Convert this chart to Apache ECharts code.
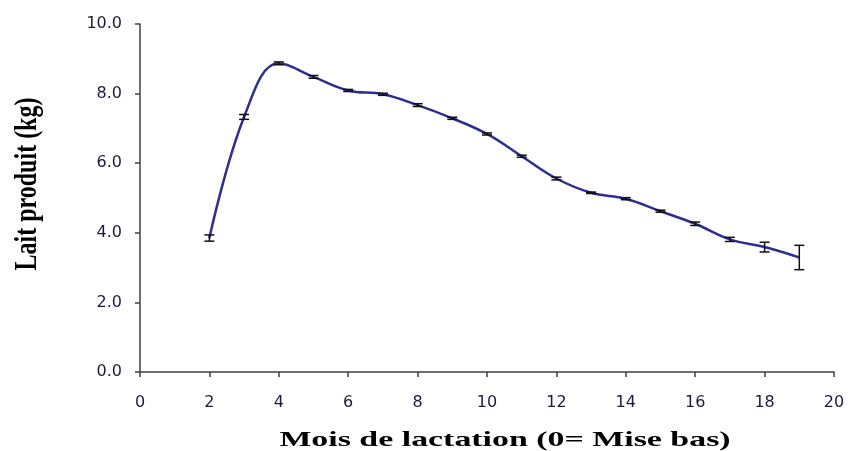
<!DOCTYPE html>
<html>
<head>
<meta charset="utf-8">
<script src="https://cdn.jsdelivr.net/npm/echarts@6/dist/echarts.min.js"></script>
<style>
html,body{margin:0;padding:0;background:#fff;}
#chart{width:849px;height:451px;}
</style>
</head>
<body>
<div id="chart"></div>
<script>
// Data
var months = [2, 3, 4, 5, 6, 7, 8, 9, 10, 11, 12, 13, 14, 15, 16, 17, 18, 19];
var milk   = [3.85, 7.33, 8.87, 8.48, 8.09, 7.98, 7.67, 7.29, 6.84, 6.20, 5.56, 5.15, 4.98, 4.62, 4.26, 3.81, 3.59, 3.29];
var errors = [0.09, 0.07, 0.04, 0.04, 0.03, 0.03, 0.04, 0.03, 0.03, 0.03, 0.04, 0.02, 0.03, 0.03, 0.05, 0.06, 0.14, 0.35];
var xTitle = 'Mois de lactation (0= Mise bas)';
var yTitle = 'Lait produit (kg)';

var lineData = months.map(function (m, i) { return [m, milk[i]]; });
var errData = months.map(function (m, i) { return [m, milk[i] - errors[i], milk[i] + errors[i]]; });

var chart = echarts.init(document.getElementById('chart'), null, {renderer: 'canvas'});
var labelColor = '#1c1c3a';
var axisColor = '#404040';

chart.setOption({
  animation: false,
  backgroundColor: '#ffffff',
  grid: {left: 140, right: 15, top: 24, bottom: 79, containLabel: false},
  xAxis: {
    type: 'value', min: 0, max: 20, interval: 2,
    splitLine: {show: false},
    axisLine: {show: true, onZero: false, lineStyle: {color: axisColor, width: 1.5}},
    axisTick: {show: true, inside: false, length: 5, lineStyle: {color: axisColor, width: 1.5}},
    axisLabel: {color: labelColor, fontFamily: 'DejaVu Sans', fontSize: 16, margin: 23}
  },
  yAxis: {
    type: 'value', min: 0, max: 10, interval: 2,
    splitLine: {show: false},
    axisLine: {show: true, onZero: false, lineStyle: {color: axisColor, width: 1.5}},
    axisTick: {show: true, inside: false, length: 5, lineStyle: {color: axisColor, width: 1.5}},
    axisLabel: {color: labelColor, fontFamily: 'DejaVu Sans', fontSize: 16, margin: 18,
      formatter: function (v) { return v.toFixed(1); }}
  },
  series: [
    {
      type: 'line',
      data: lineData,
      smooth: 0.4,
      symbol: 'none',
      lineStyle: {color: '#2e2e92', width: 2.5},
      z: 2
    },
    {
      type: 'custom',
      data: errData,
      z: 3,
      renderItem: function (params, api) {
        var x = api.value(0);
        var lo = api.coord([x, api.value(1)]);
        var hi = api.coord([x, api.value(2)]);
        var hw = 5;
        var style = {stroke: '#111111', lineWidth: 1.5};
        return {
          type: 'group',
          children: [
            {type: 'line', shape: {x1: lo[0], y1: lo[1], x2: hi[0], y2: hi[1]}, style: style},
            {type: 'line', shape: {x1: lo[0] - hw, y1: lo[1], x2: lo[0] + hw, y2: lo[1]}, style: style},
            {type: 'line', shape: {x1: hi[0] - hw, y1: hi[1], x2: hi[0] + hw, y2: hi[1]}, style: style}
          ]
        };
      }
    }
  ],
  graphic: [
    {
      type: 'text', x: 505, y: 440, scaleX: 1.54,
      style: {text: xTitle, font: 'bold 22px "Liberation Serif", "Times New Roman", serif',
        fill: '#000', align: 'center', verticalAlign: 'middle'}
    },
    {
      type: 'text', x: 28, y: 184, rotation: Math.PI / 2, scaleY: 1.3,
      style: {text: yTitle, font: 'bold 24px "Liberation Serif", "Times New Roman", serif',
        fill: '#000', align: 'center', verticalAlign: 'middle'}
    }
  ]
});
</script>
</body>
</html>
